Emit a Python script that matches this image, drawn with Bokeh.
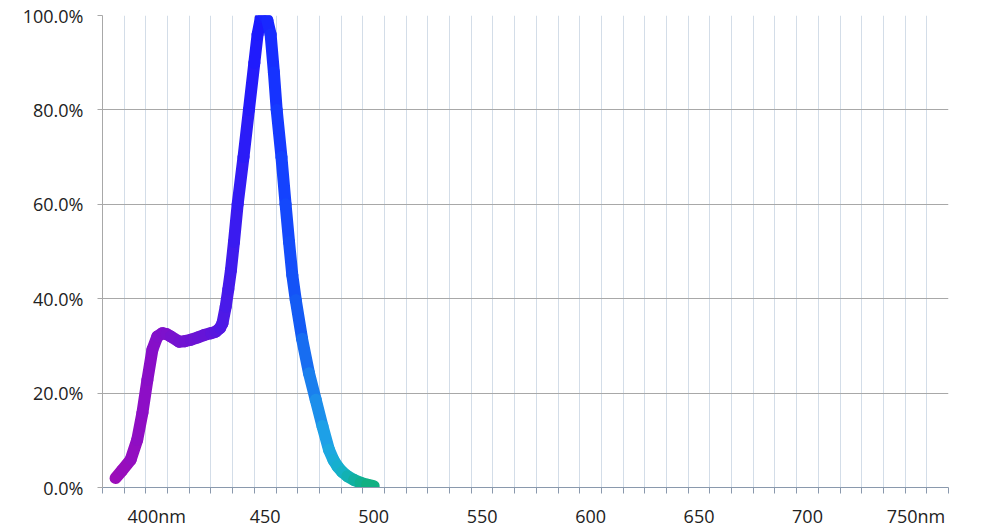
from bokeh.plotting import figure
from bokeh.models import FixedTicker, ColumnDataSource
from bokeh.embed import file_html
from bokeh.resources import INLINE

# ---- data ----
wavelength = [381, 384, 388, 391, 393.4, 395.7, 398, 400.3, 402.6, 404.5, 406.5, 410.3, 413, 415.7,
              419, 421.8, 425, 427.2, 429.2, 430.3, 431.8, 433, 434.2, 435.6, 437.3, 440, 442.5,
              445, 446.5, 448, 449.4, 451, 452.5, 454, 455.3, 457.5, 459.4, 461, 462.5, 464.1,
              467, 470.2, 473.3, 476.4, 479.4, 481.5, 483.3, 485.5, 487.9, 491, 494, 497, 500]
intensity = [2.0, 3.6, 5.9, 10.1, 15.8, 22.8, 29.2, 32.0, 32.7, 32.5, 32.0, 30.9, 31.0, 31.3,
             31.8, 32.3, 32.7, 33.0, 33.8, 34.8, 38.3, 42, 46, 52, 60, 70, 80,
             90, 96, 99.5, 100, 99, 96, 88, 80, 70, 60, 52, 45, 39.7,
             31.5, 24.2, 18.6, 13, 8, 5.8, 4.5, 3.3, 2.4, 1.6, 1.0, 0.6, 0.3]

x_label_pos = [400, 450, 500, 550, 600, 650, 700, 750]
x_label_txt = ["400nm", "450", "500", "550", "600", "650", "700", "750nm"]
category_edges = [375 + 10 * i for i in range(40)]
y_ticks = [0, 20, 40, 60, 80, 100]
y_labels = ["0.0%", "20.0%", "40.0%", "60.0%", "80.0%", "100.0%"]

# ---- style: colour stops along the spectrum ----
stop_nm = [380, 395, 410, 425, 432, 440, 448, 458, 465, 472, 479, 486, 494, 500]
stop_col = ["#9e0db6", "#8c0ec6", "#7612cf", "#6414d8", "#4a1ae8", "#2e1cf6", "#1a1aff",
            "#1440ff", "#1458f5", "#1a80ee", "#1ea6e6", "#14b2c8", "#10b098", "#12b07a"]


def hex_rgb(h):
    return tuple(int(h[i:i + 2], 16) for i in (1, 3, 5))


def colour_at(nm):
    if nm <= stop_nm[0]:
        return stop_col[0]
    for i in range(len(stop_nm) - 1):
        a, b = stop_nm[i], stop_nm[i + 1]
        if a <= nm <= b:
            t = (nm - a) / (b - a)
            ca, cb = hex_rgb(stop_col[i]), hex_rgb(stop_col[i + 1])
            c = [round(ca[k] + (cb[k] - ca[k]) * t) for k in range(3)]
            return "#%02x%02x%02x" % tuple(c)
    return stop_col[-1]


seg = ColumnDataSource(dict(
    x0=wavelength[:-1], y0=intensity[:-1],
    x1=wavelength[1:], y1=intensity[1:],
    color=[colour_at((wavelength[i] + wavelength[i + 1]) / 2) for i in range(len(wavelength) - 1)],
))

p = figure(frame_width=846, frame_height=472, x_range=(375, 765), y_range=(0, 100),
           output_backend="svg", toolbar_location=None,
           min_border_left=102, min_border_right=20, min_border_top=15, min_border_bottom=10)
p.outline_line_color = None
p.background_fill_color = "white"

# grids
p.xgrid.ticker = FixedTicker(ticks=category_edges)
p.xgrid.grid_line_color = "#d3dde8"
p.xgrid.grid_line_width = 1
p.ygrid.ticker = FixedTicker(ticks=y_ticks)
p.ygrid.grid_line_color = "#a8a8a8"
p.ygrid.grid_line_width = 1

# x axis
xa = p.xaxis[0]
xa.ticker = FixedTicker(ticks=x_label_pos, minor_ticks=category_edges)
xa.major_label_overrides = {v: t for v, t in zip(x_label_pos, x_label_txt)}
xa.major_tick_in = 0
xa.major_tick_out = 0
xa.minor_tick_in = 0
xa.minor_tick_out = 6
xa.minor_tick_line_color = "#8a99ad"
xa.axis_line_color = "#8a99ad"
xa.major_label_standoff = 10
xa.major_label_text_font = "Open Sans"
xa.major_label_text_font_size = "18px"
xa.major_label_text_color = "#222222"

# y axis
ya = p.yaxis[0]
ya.ticker = FixedTicker(ticks=y_ticks)
ya.major_label_overrides = {v: t for v, t in zip(y_ticks, y_labels)}
ya.major_tick_in = 0
ya.major_tick_out = 5
ya.major_tick_line_color = "#a8a8a8"
ya.minor_tick_line_color = None
ya.axis_line_color = "#a8a8a8"
ya.major_label_standoff = 14
ya.major_label_text_font = "Open Sans"
ya.major_label_text_font_size = "18px"
ya.major_label_text_color = "#222222"

p.segment(x0="x0", y0="y0", x1="x1", y1="y1", source=seg, line_color="color",
          line_width=12, line_cap="round", line_join="round")

open("out.html", "w").write(file_html(p, INLINE))
